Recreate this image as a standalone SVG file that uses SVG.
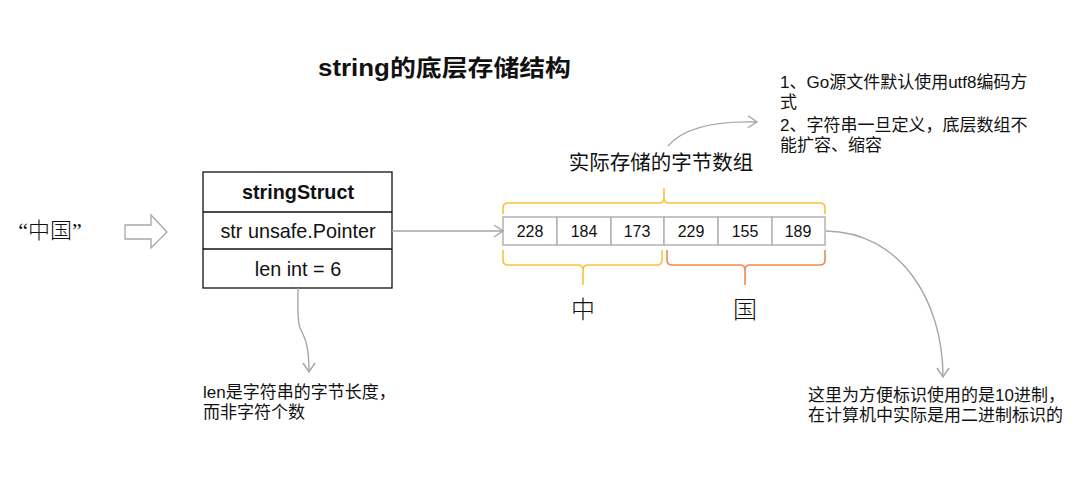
<svg xmlns="http://www.w3.org/2000/svg" width="1080" height="500" viewBox="0 0 1080 500">
<style>
  text { font-family: "Liberation Sans", "Noto Sans CJK SC", sans-serif; fill: #111; }
  .serif { font-family: "Liberation Serif", "Noto Sans CJK SC", serif; font-weight: 300; }
  .box { fill: #fff; stroke: #111; stroke-width: 1.3; }
  .cell { fill: #fff; stroke: #b3b3b3; stroke-width: 1.5; }
  .conn { fill: none; stroke: #a6a6a6; stroke-width: 1.4; }
  .brace-y { fill: none; stroke: #f8c338; stroke-width: 1.6; }
  .brace-o { fill: none; stroke: #f08a4b; stroke-width: 1.6; }
  .num { font-size: 16px; text-anchor: middle; }
  .note { font-size: 17px; }
  .title { font-size: 23px; font-weight: bold; }
  .field { font-size: 19.8px; text-anchor: middle; }
</style>
<defs>
  <marker id="chev" markerUnits="userSpaceOnUse" markerWidth="14" markerHeight="14" viewBox="0 0 14 14" refX="12" refY="7" orient="auto">
    <path d="M3,1 L12,7 L3,13" fill="none" stroke="#a6a6a6" stroke-width="1.4"/>
  </marker>
</defs>
<rect width="1080" height="500" fill="#fff"/>

<g id="title-group">
  <text class="title" x="318" y="76" textLength="253" lengthAdjust="spacingAndGlyphs">string的底层存储结构</text>
</g>

<g id="source">
  <text class="serif" x="50" y="238" font-size="22" text-anchor="middle">“中国”</text>
</g>

<g id="hollow-arrow">
  <polygon points="125,225 151,225 151,215 167,232 151,248 151,239 125,239" fill="#fff" stroke="#a6a6a6" stroke-width="1.3"/>
</g>

<g id="stringStruct">
  <rect class="box" x="203" y="172" width="189" height="116"/>
  <line x1="203" y1="212" x2="392" y2="212" stroke="#111" stroke-width="1.3"/>
  <line x1="203" y1="249" x2="392" y2="249" stroke="#111" stroke-width="1.3"/>
  <text class="field" x="298" y="199" font-weight="bold">stringStruct</text>
  <text class="field" x="298" y="238">str unsafe.Pointer</text>
  <text class="field" x="298" y="276">len int = 6</text>
</g>

<g id="byte-array">
  <rect class="cell" x="503" y="217" width="54" height="28"/>
  <rect class="cell" x="557" y="217" width="54" height="28"/>
  <rect class="cell" x="611" y="217" width="53" height="28"/>
  <rect class="cell" x="664" y="217" width="54" height="28"/>
  <rect class="cell" x="718" y="217" width="54" height="28"/>
  <rect class="cell" x="772" y="217" width="53" height="28"/>
  <text class="num" x="530" y="237">228</text>
  <text class="num" x="584" y="237">184</text>
  <text class="num" x="637" y="237">173</text>
  <text class="num" x="691" y="237">229</text>
  <text class="num" x="745" y="237">155</text>
  <text class="num" x="798" y="237">189</text>
</g>

<g id="braces">
  <path class="brace-y" d="M503,214 L503,208 Q503,203 508,203 L659,203 Q664,203 664,198 L664,188 M664,198 Q664,203 669,203 L820,203 Q825,203 825,208 L825,214"/>
  <path class="brace-y" d="M503,250 L503,260 Q503,265 508,265 L578,265 Q583,265 583,270 L583,285 M583,270 Q583,265 588,265 L657,265 Q662,265 662,260 L662,250"/>
  <path class="brace-o" d="M667,250 L667,260 Q667,265 672,265 L740,265 Q745,265 745,270 L745,285 M745,270 Q745,265 750,265 L820,265 Q825,265 825,260 L825,250"/>
</g>

<g id="label-zhong"><text class="serif" x="583" y="318" font-size="24" text-anchor="middle">中</text></g>
<g id="label-guo"><text class="serif" x="745" y="318" font-size="24" text-anchor="middle">国</text></g>

<g id="array-label"><text x="661" y="170" font-size="20.5" text-anchor="middle">实际存储的字节数组</text></g>

<g id="note-top">
  <text class="note" x="780" y="88">1、Go源文件默认使用utf8编码方</text>
  <text class="note" x="780" y="108">式</text>
  <text class="note" x="780" y="131">2、字符串一旦定义，底层数组不</text>
  <text class="note" x="780" y="151">能扩容、缩容</text>
</g>

<g id="note-len">
  <text class="note" x="203" y="398">len是字符串的字节长度，</text>
  <text class="note" x="203" y="418">而非字符个数</text>
</g>

<g id="note-decimal">
  <text class="note" x="808" y="401">这里为方便标识使用的是10进制，</text>
  <text class="note" x="808" y="421">在计算机中实际是用二进制标识的</text>
</g>

<g id="connectors">
  <line class="conn" x1="392" y1="231" x2="503" y2="231" marker-end="url(#chev)"/>
  <path class="conn" d="M668,146 Q690,120 757,122" marker-end="url(#chev)"/>
  <path class="conn" d="M826,231 C900,232 943,300 943,377" marker-end="url(#chev)"/>
  <path class="conn" d="M298,288 C298,310 297,320 300,328 C305,338 309,345 309,372" marker-end="url(#chev)"/>
</g>
</svg>
